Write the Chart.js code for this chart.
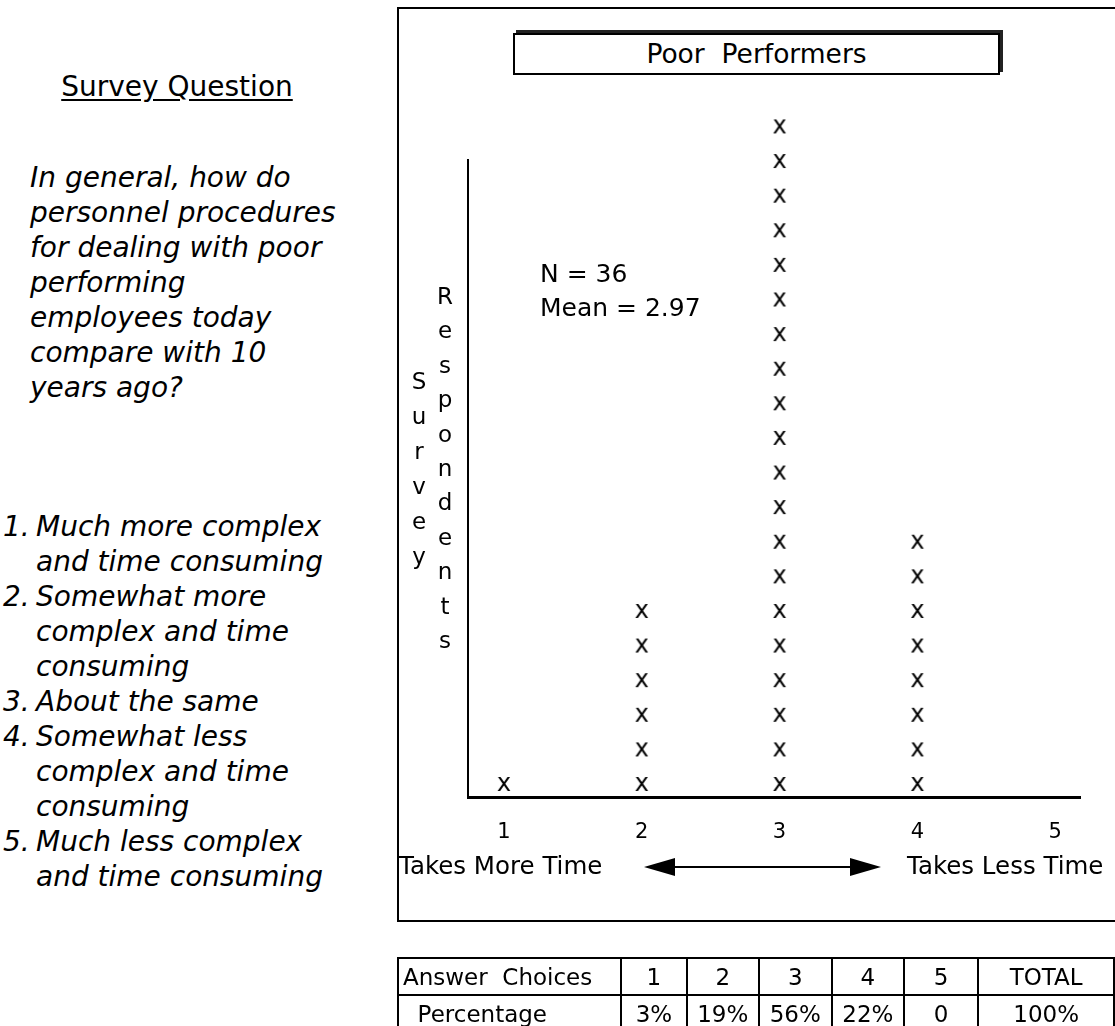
<!DOCTYPE html>
<html><head><meta charset="utf-8">
<script src="https://cdn.jsdelivr.net/npm/chart.js@4/dist/chart.umd.min.js"></script>
<style>
html,body{margin:0;padding:0;background:#fff}
body{width:1115px;height:1026px;overflow:hidden;position:relative;font-family:"DejaVu Sans",sans-serif;color:#000}
.abs{position:absolute;white-space:pre;line-height:1}
#sq{left:0;width:354px;text-align:center;top:73px;font-size:28px;text-decoration:underline;text-underline-offset:3px}
.it{font-style:italic;font-size:28px}
#outer{position:absolute;left:397px;top:7px;width:740px;height:915px;border:2px solid #000;box-sizing:border-box}
#title{position:absolute;left:513px;top:33px;width:487px;height:42px;border:2px solid #000;box-sizing:border-box;box-shadow:3px -3px 0 0 #222;text-align:center;font-size:26.5px;line-height:38px;white-space:pre}
#tbl{position:absolute;left:397px;top:957px;border-collapse:collapse;font-size:23px}
#tbl td{border:2px solid #000;height:37px;padding:0;text-align:center;box-sizing:border-box}
</style></head><body>
<div id="outer"></div>
<div id="title">Poor  Performers</div>
<div class="abs" id="sq">Survey Question</div>
<div id="left"></div>
<canvas id="c" width="1115" height="1026" style="position:absolute;left:0;top:0"></canvas>
<div id="labels"></div>
<svg width="1115" height="1026" style="position:absolute;left:0;top:0;pointer-events:none">
  <line x1="665" y1="867" x2="860" y2="867" stroke="#000" stroke-width="2"/>
  <polygon points="644,867 675,858 675,876" fill="#000"/>
  <polygon points="881,867 850,858 850,876" fill="#000"/>
</svg>
<table id="tbl"></table>
<script>
// ---- data ----
const categories = [1, 2, 3, 4, 5];
const tickLabels = ['1', '2', '3', '4', '5'];
const counts = [1, 6, 20, 8, 0];            // x marks drawn per answer choice
const percentages = ['3%', '19%', '56%', '22%', '0'];
const totalLabel = '100%';
const nRespondents = 36;
const meanValue = 2.97;
const questionLines = ['In general, how do', 'personnel procedures', 'for dealing with poor', 'performing', 'employees today', 'compare with 10', 'years ago?'];
const answerLines = [
  ['1.', 'Much more complex'], ['', 'and time consuming'],
  ['2.', 'Somewhat more'], ['', 'complex and time'], ['', 'consuming'],
  ['3.', 'About the same'],
  ['4.', 'Somewhat less'], ['', 'complex and time'], ['', 'consuming'],
  ['5.', 'Much less complex'], ['', 'and time consuming']
];

// ---- left text panel ----
const left = document.getElementById('left');
questionLines.forEach((t, i) => {
  const d = document.createElement('div');
  d.className = 'abs it'; d.textContent = t;
  d.style.left = '30px'; d.style.top = (164 + i * 35) + 'px';
  left.appendChild(d);
});
answerLines.forEach((a, i) => {
  const y = 513 + i * 35;
  if (a[0]) { const n = document.createElement('div'); n.className = 'abs it'; n.textContent = a[0]; n.style.left = '3px'; n.style.top = y + 'px'; left.appendChild(n); }
  const d = document.createElement('div'); d.className = 'abs it'; d.textContent = a[1];
  d.style.left = '36px'; d.style.top = y + 'px'; left.appendChild(d);
});

// ---- other chart labels ----
const labels = document.getElementById('labels');
function addLabel(text, x, y, size, extra) {
  const d = document.createElement('div'); d.className = 'abs'; d.textContent = text;
  d.style.left = x + 'px'; d.style.top = y + 'px'; d.style.fontSize = size + 'px';
  if (extra) Object.assign(d.style, extra);
  labels.appendChild(d); return d;
}
addLabel('N = ' + nRespondents, 540, 261, 25);
addLabel('Mean = ' + meanValue.toFixed(2), 540, 295, 25);
addLabel('Takes More Time', 399, 854, 24.5);
addLabel('Takes Less Time', 907, 854, 24.5);
'Survey'.split('').forEach((ch, i) => addLabel(ch, 410, 370 + i * 35, 23, {width: '18px', textAlign: 'center'}));
'Respondents'.split('').forEach((ch, i) => addLabel(ch, 436, 285 + i * 34.4, 23, {width: '18px', textAlign: 'center'}));

// ---- table ----
const tbl = document.getElementById('tbl');
const colW = [225, 68, 73, 75, 73, 79, 140];
const r1 = tbl.insertRow(), r2 = tbl.insertRow();
['Answer  Choices', ...tickLabels, 'TOTAL'].forEach((t, i) => {
  const c = r1.insertCell(); c.textContent = t; c.style.width = colW[i] + 'px'; c.style.whiteSpace = 'pre';
  if (i === 0) { c.style.textAlign = 'left'; c.style.paddingLeft = '4px'; }
});
['  Percentage', ...percentages, totalLabel].forEach((t, i) => {
  const c = r2.insertCell(); c.textContent = t; c.style.whiteSpace = 'pre';
  if (i === 0) { c.style.textAlign = 'left'; c.style.paddingLeft = '4px'; }
});

// ---- chart ----
function xGlyph() {
  const cv = document.createElement('canvas'); cv.width = 28; cv.height = 28;
  const g = cv.getContext('2d');
  g.font = '24px "DejaVu Sans"'; g.textAlign = 'center'; g.textBaseline = 'alphabetic'; g.fillStyle = '#000';
  g.fillText('x', 14, 20.5);
  return cv;
}
const points = [];
counts.forEach((c, i) => { for (let k = 1; k <= c; k++) points.push({x: categories[i], y: k}); });

new Chart(document.getElementById('c'), {
  type: 'scatter',
  data: {datasets: [{
    data: points, pointStyle: xGlyph(), pointBorderWidth: 0, clip: false,
    pointRadius: 35   // hit margin so the marks above the axis top are still drawn
  }]},
  options: {
    responsive: false, animation: false, events: [],
    layout: {padding: {left: 468, top: 160, right: 1115 - 1083, bottom: 1026 - 797 - 60}},
    plugins: {legend: {display: false}, tooltip: {enabled: false}},
    scales: {
      x: {
        type: 'linear', min: 0.74, max: 5.18,
        afterFit: s => { s.height = 60; },
        afterBuildTicks: s => { s.ticks = categories.map(v => ({value: v})); },
        ticks: {callback: v => tickLabels[categories.indexOf(v)], font: {family: 'DejaVu Sans', size: 21}, color: '#000', padding: 23, maxRotation: 0, autoSkip: false},
        grid: {display: false, drawTicks: false},
        border: {display: true, color: '#000', width: 3}
      },
      y: {
        type: 'linear', min: 0.624, max: 19.03,
        afterFit: s => { s.width = 0; },
        ticks: {display: false},
        grid: {display: false, drawTicks: false},
        border: {display: true, color: '#000', width: 2}
      }
    }
  }
});
</script>
</body></html>
